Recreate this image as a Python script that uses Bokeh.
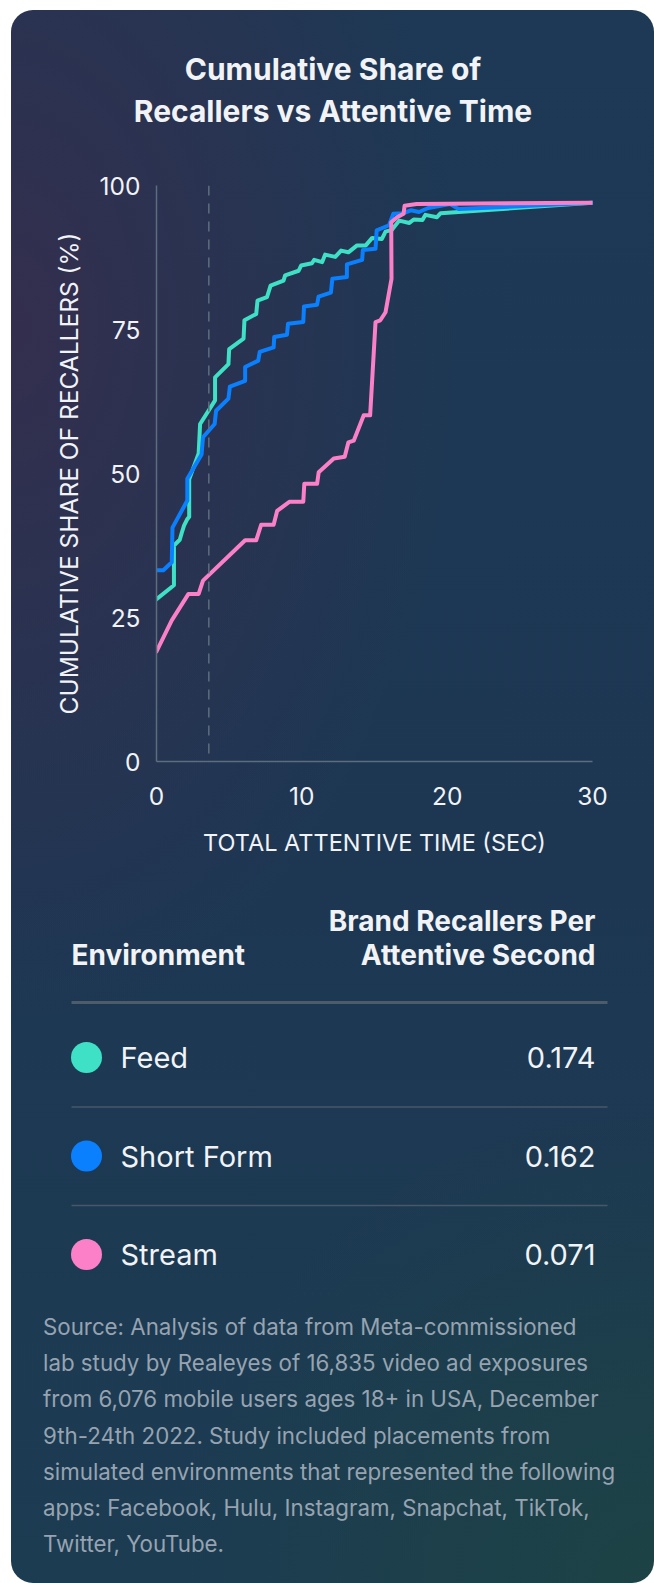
from bokeh.plotting import figure
from bokeh.layouts import column
from bokeh.models import Range1d, FixedTicker, Span
from bokeh.core.properties import value
from bokeh.embed import file_html
from bokeh.resources import INLINE

# ---------------- data ----------------
feed_x = [0, 1.2, 1.2, 1.6, 1.75, 1.9, 2.1, 2.25, 2.25, 2.9, 3.0, 4.03, 4.03, 4.95, 5.0, 5.99, 6.05,
          6.86, 6.95, 7.6, 7.85, 8.74, 8.85, 9.78, 9.95, 10.7, 10.85, 11.4, 11.6, 12.3, 12.7, 13.2,
          13.8, 14.4, 14.84, 15.5, 15.76, 16.2, 16.7, 17.4, 17.7, 18.3, 18.5, 19.3, 19.55, 30]
feed_y = [28.2, 30.6, 37.5, 38.5, 39.8, 41.0, 42.0, 42.5, 49.0, 53.5, 58.6, 62.7, 66.7, 69.0, 71.6, 73.4, 76.6,
          77.7, 80.0, 80.6, 82.6, 83.5, 84.4, 85.2, 86.1, 86.5, 87.1, 86.7, 88.0, 87.6, 88.7, 88.4,
          89.6, 89.6, 90.9, 90.7, 92.0, 92.3, 93.9, 93.5, 94.1, 94.0, 94.9, 94.5, 95.2, 97.0]

short_x = [0, 0.47, 1.05, 1.1, 2.12, 2.12, 3.1, 3.2, 4.0, 4.1, 4.95, 5.05, 6.1, 6.1, 7.0, 7.1, 8.06, 8.1,
           8.98, 9.05, 10.1, 10.15, 11.05, 11.15, 12.0, 12.1, 13.1, 13.1, 14.15, 14.2, 15.07, 15.15,
           16.0, 16.3, 17.0, 17.5, 18.06, 18.7, 20.2, 20.8, 30]
short_y = [33.2, 33.2, 34.6, 40.6, 45.3, 49.1, 53.3, 56.3, 58.6, 60.9, 63.0, 65.1, 66.1, 68.5, 69.6, 71.1, 71.9, 73.7,
           74.1, 76.0, 76.3, 79.0, 79.3, 80.7, 81.4, 83.8, 84.1, 86.3, 87.1, 88.8, 89.0, 92.2,
           93.1, 95.1, 95.2, 95.7, 95.4, 96.1, 96.8, 95.9, 97.0]

stream_x = [0, 1.05, 2.2, 2.9, 3.2, 6.1, 6.86, 7.2, 8.06, 8.3, 9.16, 10.1, 10.17, 11.05, 11.16, 12.2,
            12.95, 13.2, 13.57, 14.26, 14.7, 15.07, 15.4, 15.76, 16.17, 16.15, 16.56, 17.0, 17.07, 17.9, 30]
stream_y = [19.1, 24.5, 29.1, 29.1, 31.4, 38.4, 38.4, 41.1, 41.1, 43.5, 45.1, 45.1, 48.2, 48.2, 50.2, 52.6,
            52.9, 55.4, 55.7, 60.1, 60.1, 76.3, 76.6, 78.0, 83.8, 93.6, 94.5, 95.1, 96.5, 96.8, 97.0]

environments = ["Feed", "Short Form", "Stream"]
recallers_per_sec = ["0.174", "0.162", "0.071"]
colors = ["#3ee0c6", "#0a80ff", "#fb80c8"]

x_ticks = [0, 10, 20, 30]
y_ticks = [0, 25, 50, 75, 100]
attention_marker = 3.6

title_lines = ["Cumulative Share of", "Recallers vs Attentive Time"]
table_header = ["Environment", "Brand Recallers Per", "Attentive Second"]
source_lines = [
    "Source: Analysis of data from Meta-commissioned",
    "lab study by Realeyes of 16,835 video ad exposures",
    "from 6,076 mobile users ages 18+ in USA, December",
    "9th-24th 2022. Study included placements from",
    "simulated environments that represented the following",
    "apps: Facebook, Hulu, Instagram, Snapchat, TikTok,",
    "Twitter, YouTube.",
]

# ---------------- styling ----------------
W = 643
FONT = "Inter"
WHITE = "#f1f3f6"


def blank(h):
    f = figure(width=W, height=h, x_range=Range1d(0, W), y_range=Range1d(h, 0),
               x_axis_type=None, y_axis_type=None, output_backend="svg",
               toolbar_location=None, min_border=0, frame_align=False)
    f.grid.visible = False
    f.outline_line_color = None
    f.background_fill_alpha = 0
    f.border_fill_alpha = 0
    return f


# title
t = blank(140)
t.text(x=[321.5, 321.5], y=[58, 100], text=title_lines, text_align="center",
       text_baseline="middle", text_font=value(FONT), text_font_style="bold",
       text_font_size="30px", text_color=WHITE)

# chart
p = figure(width=W, height=720, x_range=Range1d(0, 30), y_range=Range1d(0, 100),
           output_backend="svg", toolbar_location=None, frame_align=False,
           min_border_left=145, min_border_right=62, min_border_top=35, min_border_bottom=109)
p.grid.visible = False
p.outline_line_color = None
p.background_fill_alpha = 0
p.border_fill_alpha = 0
p.xaxis.ticker = FixedTicker(ticks=x_ticks)
p.yaxis.ticker = FixedTicker(ticks=y_ticks)
p.xaxis.axis_label = "TOTAL ATTENTIVE TIME (SEC)"
p.yaxis.axis_label = "CUMULATIVE SHARE OF RECALLERS (%)"
for ax in (p.xaxis[0], p.yaxis[0]):
    ax.axis_line_color = "#5e6d7d"
    ax.axis_line_width = 1.5
    ax.major_tick_line_color = None
    ax.minor_tick_line_color = None
    ax.major_tick_in = 0
    ax.major_tick_out = 0
    ax.minor_tick_in = 0
    ax.minor_tick_out = 0
    ax.major_label_text_font = FONT
    ax.major_label_text_font_size = "24.5px"
    ax.major_label_text_color = WHITE
    ax.axis_label_text_font = FONT
    ax.axis_label_text_font_style = "normal"
    ax.axis_label_text_color = WHITE
p.xaxis.axis_label_text_font_size = "23.5px"
p.yaxis.axis_label_text_font_size = "24.5px"
p.xaxis.major_label_standoff = 25
p.yaxis.major_label_standoff = 16
p.xaxis.axis_label_standoff = 20
p.yaxis.axis_label_standoff = 13

p.add_layout(Span(location=attention_marker, dimension="height", line_color="#5f6e7e",
                  line_width=1.5, line_dash="10 8"))
for xs, ys, c in ((feed_x, feed_y, colors[0]), (short_x, short_y, colors[1]), (stream_x, stream_y, colors[2])):
    p.line(xs, ys, line_color=c, line_width=4, line_join="round", line_cap="round")

# table
tb = blank(420)
tb.text(x=[60], y=[84], text=[table_header[0]], text_align="left", text_baseline="middle",
        text_font=value(FONT), text_font_style="bold", text_font_size="28px", text_color=WHITE)
tb.text(x=[584, 584], y=[50, 84], text=table_header[1:], text_align="right", text_baseline="middle",
        text_font=value(FONT), text_font_style="bold", text_font_size="28px", text_color=WHITE)
tb.segment(x0=[60], y0=[132], x1=[596], y1=[132], line_color="#4d5c6b", line_width=3)
row_y = [187 + 98.5 * i for i in range(len(environments))]
tb.segment(x0=[60] * 2, y0=[r + 49.5 for r in row_y[:-1]], x1=[596] * 2, y1=[r + 49.5 for r in row_y[:-1]],
           line_color="#485868", line_width=1.3)
tb.scatter(x=[75] * len(environments), y=row_y, size=31, fill_color=colors, line_color=None)
tb.text(x=[109] * len(environments), y=row_y, text=environments, text_align="left",
        text_baseline="middle", text_font=value(FONT), text_font_size="29px", text_color=WHITE)
tb.text(x=[584] * len(environments), y=row_y, text=recallers_per_sec, text_align="right",
        text_baseline="middle", text_font=value(FONT), text_font_size="29px", text_color=WHITE)

# source
sf = blank(293)
sf.text(x=[31.5] * len(source_lines), y=[36 + 36.2 * i for i in range(len(source_lines))], text=source_lines,
        text_align="left", text_baseline="middle", text_font=value(FONT), text_font_size="22.3px",
        text_color="#97a3b0")

bg = ("radial-gradient(ellipse 75% 30% at 100% 100%, rgba(29,67,68,0.95) 0%, rgba(29,67,68,0) 100%), "
      "radial-gradient(ellipse 70% 45% at 0% 20%, rgba(52,46,78,1) 0%, rgba(52,46,78,0) 100%), "
      "linear-gradient(180deg, #1d3955 0%, #1d3753 55%, #1c3c52 100%)")
layout = column(t, p, tb, sf, spacing=0,
                styles={"background": bg, "border-radius": "22px", "position": "relative",
                        "left": "11px", "top": "10px", "overflow": "hidden"})

open("out.html", "w").write(file_html(layout, INLINE))
